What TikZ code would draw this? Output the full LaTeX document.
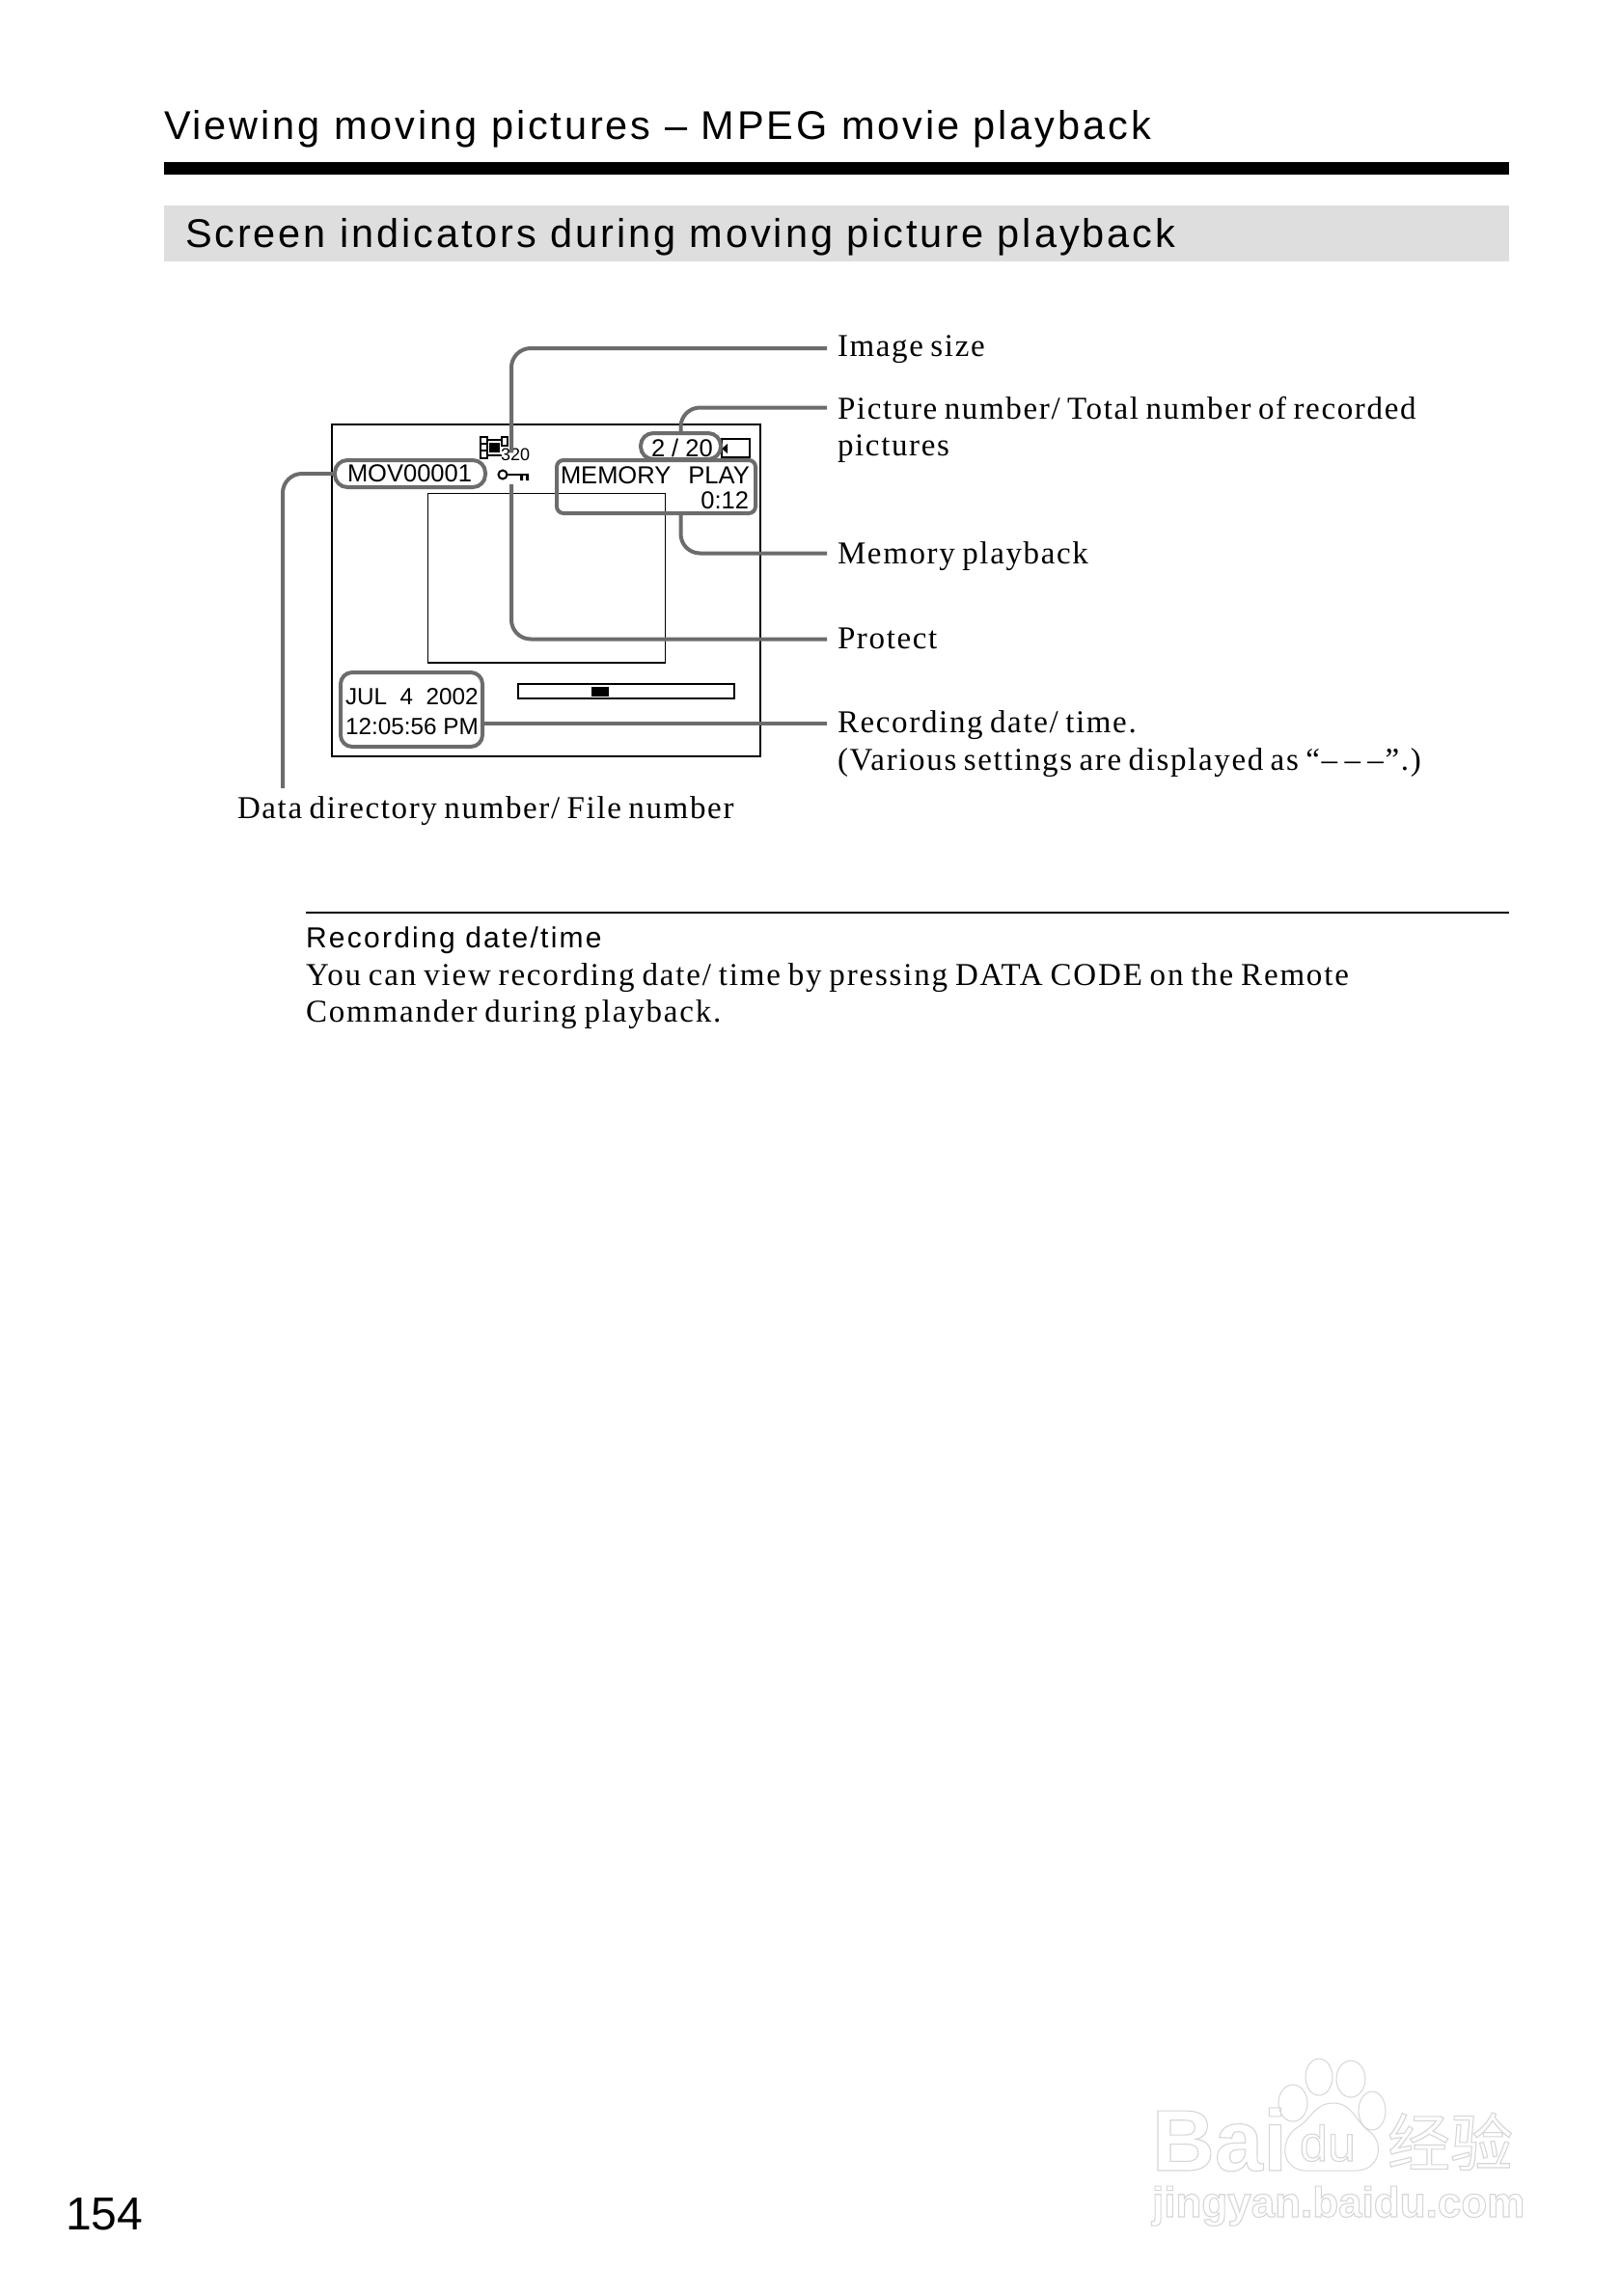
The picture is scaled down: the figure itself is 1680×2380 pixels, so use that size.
\documentclass[tikz,border=0pt]{standalone}
\usepackage{fontspec}
\setmainfont{Liberation Serif}
\setsansfont{Liberation Sans}
\newfontfamily\ttlfont[LetterSpace=7]{Liberation Sans}
\newfontfamily\lblfont[LetterSpace=5,WordSpace=0.75]{Liberation Serif}
\newfontfamily\bodyfont[LetterSpace=5.5,WordSpace=0.78]{Liberation Serif}
\newfontfamily\subfont[LetterSpace=7.5]{Liberation Sans}
\newfontfamily\scrfont{Liberation Sans}
\newfontfamily\cjkfont{Noto Sans CJK SC}
\newcommand{\outl}[1]{\special{pdf:code q 1 Tr 1.1 w 0.84 G}#1\special{pdf:code Q}}
\definecolor{conngrey}{HTML}{6C6C6C}
\definecolor{bandgrey}{HTML}{DEDEDE}
\definecolor{wmgrey}{HTML}{D6D6D6}
\tikzset{
  txt/.style={inner sep=0pt,outer sep=0pt,anchor=base west,text=black},
  title/.style={txt,font=\ttlfont\fontsize{41.5}{48}\selectfont},
  lbl/.style={txt,font=\lblfont\fontsize{33}{38}\selectfont,text height=27pt,text depth=8pt},
  scr/.style={txt,font=\scrfont\fontsize{25.5}{30}\selectfont},
  conn/.style={draw=conngrey,line width=4pt,rounded corners=20pt},
  hilite/.style={draw=conngrey,line width=4pt,inner sep=0pt,outer sep=0pt,minimum width=0pt,minimum height=0pt},
  frameline/.style={draw=black,line width=2.4pt},
  thin/.style={draw=black,line width=1pt},
  wm/.style={draw=wmgrey,line width=1pt},
  wmt/.style={inner sep=0pt,outer sep=0pt,anchor=base west}
}
\begin{document}
\begin{tikzpicture}[x=1pt,y=-1pt]
\useasboundingbox[fill=white] (0,0) rectangle (1680,2380);
% page furniture
\node[title] (title) at (170,144) {Viewing moving pictures – MPEG movie playback};
\fill[black] (170,168) rectangle (1564,181);
\fill[bandgrey] (170,213) rectangle (1564,271);
\node[title] (section) at (192,256) {Screen indicators during moving picture playback};
% screen
\draw[frameline] (344,440) rectangle (788,784);
\draw[thin] (443,511) rectangle (689,687);
\draw[black,line width=2pt] (443,687) -- (689,687);
\draw[frameline,line width=1.3pt] (537,709) rectangle (761,724);
\fill[black] (613,712) rectangle (631,722);
% film icon
\node[inner sep=0pt,minimum width=30pt,minimum height=23pt] (film) at (513,464) {};
\draw[black,line width=1.4pt] (498,453) rectangle (505,475);
\draw[black,line width=1.4pt] (498,460) -- (505,460) (498,467) -- (505,467);
\draw[black,line width=1.4pt] (520,453) rectangle (526,462);
\draw[black,line width=1.4pt] (505,456) -- (520,456) (505,472) -- (520,472);
\fill[black] (507,459) rectangle (518,469);
\node[txt,font=\scrfont\fontsize{18}{20}\selectfont] (size320) at (519,477) {320};
% key icon
\draw[black,line width=2pt] (521,492) circle (4.5pt);
\draw[black,line width=2.2pt] (526,492) -- (548,492);
\fill[black] (539,492) rectangle (542,498) (545,492) rectangle (548,498);
\node[inner sep=0pt,minimum width=30pt,minimum height=18pt] (key) at (533,493) {};
% battery icon
\draw[black,line width=1.4pt] (748,455) rectangle (777,474);
\fill[black] (748,465) -- (754,460) -- (754,470) -- cycle;
% highlight boxes
\node[hilite,rounded corners=13pt,minimum width=156pt,minimum height=28pt] (movbox) at (425,491) {};
\node[hilite,rounded corners=13pt,minimum width=83pt,minimum height=27pt] (numbox) at (705.5,462.5) {};
\node[hilite,rounded corners=7pt,minimum width=206pt,minimum height=55pt] (membox) at (680,504.5) {};
\node[hilite,rounded corners=12pt,minimum width=147pt,minimum height=77pt] (datebox) at (426.5,735.5) {};
% screen texts
\node[scr] (mov) at (360,499) {MOV00001};
\node[scr] (num) at (675,473) {2 / 20};
\node[scr] (mem) at (581,501) {MEMORY\ \ \kern4pt PLAY};
\node[scr,anchor=base east] (time) at (776,527) {0:12};
\node[scr,font=\scrfont\fontsize{24.3}{30}\selectfont] (date) at (358,730) {JUL\ \ 4\ \ 2002};
\node[scr,font=\scrfont\fontsize{24.3}{30}\selectfont] (clock) at (358,761) {12:05:56 PM};
% labels
\node[lbl] (limg) at (868,369) {Image size};
\node[lbl] (lpic) at (868,434) {Picture number/ Total number of recorded};
\node[lbl] (lpic2) at (868,472) {pictures};
\node[lbl] (lmem) at (868,584) {Memory playback};
\node[lbl] (lpro) at (868,672) {Protect};
\node[lbl] (lrec) at (868,759) {Recording date/ time.};
\node[lbl] (lrec2) at (868,798) {(Various settings are displayed as “– – –”.)};
\node[lbl] (ldat) at (246,848) {Data directory number/ File number};
\coordinate (dataend) at (293,817);
% connectors
\draw[conn] ([xshift=17pt]film.north) -- ++(0,-3) |- ([xshift=-11pt,yshift=-1.5pt]limg.west);
\draw[conn] (numbox.north) |- ([xshift=-11pt,yshift=2pt]lpic.west);
\draw[conn] (membox.south -| numbox.north) |- ([xshift=-11pt,yshift=1pt]lmem.west);
\draw[conn] ([xshift=-3pt]key.south) |- ([xshift=-11pt]lpro.west);
\draw[conn] (datebox.east |- lrec.west) -- ([xshift=-11pt]lrec.west);
\draw[conn] (movbox.west) -| (dataend);
% note
\draw[black,line width=2pt] (317,946) -- (1564,946);
\node[txt,font=\subfont\fontsize{30}{36}\selectfont] (note) at (317,982) {Recording date/time};
\node[txt,font=\bodyfont\fontsize{33}{38}\selectfont] (body1) at (317,1021) {You can view recording date/ time by pressing DATA CODE on the Remote};
\node[txt,font=\bodyfont\fontsize{33}{38}\selectfont] (body2) at (317,1059) {Commander during playback.};
\node[txt,font=\scrfont\fontsize{48}{50}\selectfont] (page) at (68,2311) {154};
% watermark
\draw[wm] (1340,2180) ellipse (15pt and 19pt);
\draw[wm] (1367,2153) ellipse (14pt and 19pt);
\draw[wm] (1400,2155) ellipse (15pt and 19pt);
\draw[wm] (1422,2188) ellipse (14pt and 20pt);
\draw[wm] (1350,2250) .. controls (1325,2245) and (1328,2215) .. (1345,2205) .. controls (1358,2198) and (1362,2180) .. (1382,2180) .. controls (1402,2180) and (1405,2200) .. (1420,2210) .. controls (1435,2222) and (1430,2250) .. (1405,2250) -- cycle;
\node[wmt,font=\sffamily\bfseries\fontsize{90}{94}\selectfont] (wmbai) at (1194,2250) {\outl{Bai}};
\node[wmt,font=\sffamily\fontsize{52}{56}\selectfont] (wmdu) at (1347,2240) {\outl{du}};
\node[wmt,font=\cjkfont\fontsize{65}{70}\selectfont] (wmcn) at (1438,2245) {\outl{经验}};
\node[wmt,font=\sffamily\bfseries\fontsize{44}{52}\selectfont] (wmurl) at (1194,2298) {\outl{jingyan.baidu.com}};
\end{tikzpicture}
\end{document}
